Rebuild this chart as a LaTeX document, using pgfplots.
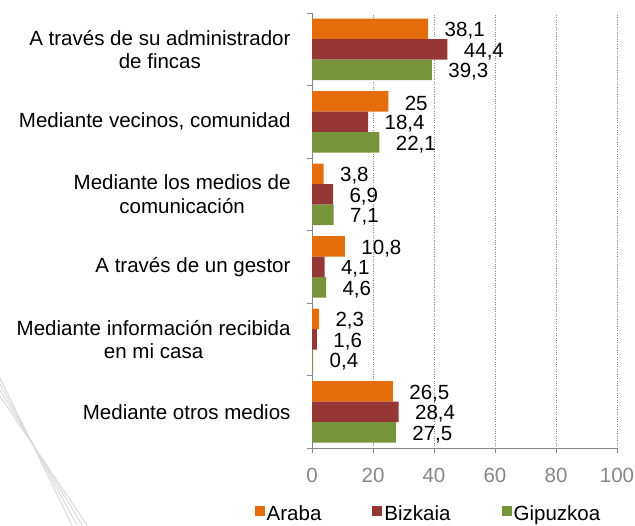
\documentclass[border=0pt]{standalone}
\usepackage{pgfplots}
\pgfplotsset{compat=1.18}
\usepackage{fontspec}
\setmainfont{Liberation Sans}
\definecolor{araba}{HTML}{E46C0A}
\definecolor{bizkaia}{HTML}{953735}
\definecolor{gipuzkoa}{HTML}{77933C}
\definecolor{axisgray}{HTML}{868686}
\definecolor{deco}{HTML}{DCDCDC}
\newcommand{\fs}{\fontsize{20.6}{23.5}\selectfont}
\begin{document}
\begin{tikzpicture}
\begin{axis}[
  name=ax,
  scale only axis, width=305bp, height=435bp,
  xmin=0, xmax=100, ymin=-0.5, ymax=5.5,
  clip=false,
  axis x line*=bottom, axis y line*=left,
  axis line style={axisgray},
  xtick={0,20,...,100},
  ytick={-0.5,0.5,...,5.5},
  yticklabel={\relax},
  tick align=outside,
  major tick length=5bp,
  tick style={axisgray},
  xmajorgrids, ymajorgrids=false,
  major grid style={axisgray, dotted, line width=0.6pt},
  extra y ticks={0,1,2,3,4,5},
  extra y tick labels={
    {Mediante otros medios},
    {Mediante información recibida\\en mi casa},
    {A través de un gestor},
    {Mediante los medios de\\comunicación},
    {Mediante vecinos, comunidad},
    {A través de su administrador\\de fincas}},
  extra y tick style={major tick length=0pt, tick style={draw=none}, grid=none},
  yticklabel style={align=center, font=\fs, black, xshift=-18bp},
  xticklabel style={font=\fs, text=axisgray, yshift=-12bp},
  /pgf/number format/assume math mode=true,
  /pgf/number format/use comma,
  /pgf/number format/1000 sep={},
  xbar, bar width=0.283,
  nodes near coords,
  every node near coord/.append style={font=\fs, black, xshift=13bp, yshift=-2bp},
  legend style={at={(axis description cs:0.382,-0.152)}, anchor=center, draw=none, fill=none,
    font=\fs, legend columns=3,
    /tikz/every even column/.append style={column sep=49bp}},
  legend image code/.code={\fill[#1] (0bp,-2bp) rectangle (10bp,8bp);},
]
\addplot[fill=araba, draw=none, bar shift=0.283] coordinates {
  (38.1,5) (25,4) (3.8,3) (10.8,2) (2.3,1) (26.5,0)};
\addplot[fill=bizkaia, draw=none, bar shift=0] coordinates {
  (44.4,5) (18.4,4) (6.9,3) (4.1,2) (1.6,1) (28.4,0)};
\addplot[fill=gipuzkoa, draw=none, bar shift=-0.283] coordinates {
  (39.3,5) (22.1,4) (7.1,3) (4.6,2) (0.4,1) (27.5,0)};
\legend{Araba, Bizkaia, Gipuzkoa}
\coordinate (bbl) at (rel axis cs:-1.023,-0.177);
\coordinate (btr) at (rel axis cs:1.059,1.030);
\end{axis}
% faint decorative background strokes (bottom-left corner)
\begin{scope}[shift={(ax.south west)}, deco, line width=1.1pt]
  \draw (-312bp,70bp) -- (-240bp,-77bp);
  \draw (-312bp,64bp) -- (-235bp,-77bp);
  \draw (-312bp,58bp) -- (-230bp,-77bp);
  \draw (-312bp,52bp) -- (-225bp,-77bp);
\end{scope}
\pgfresetboundingbox
\path[use as bounding box] (bbl) rectangle (btr);
\end{tikzpicture}
\end{document}
